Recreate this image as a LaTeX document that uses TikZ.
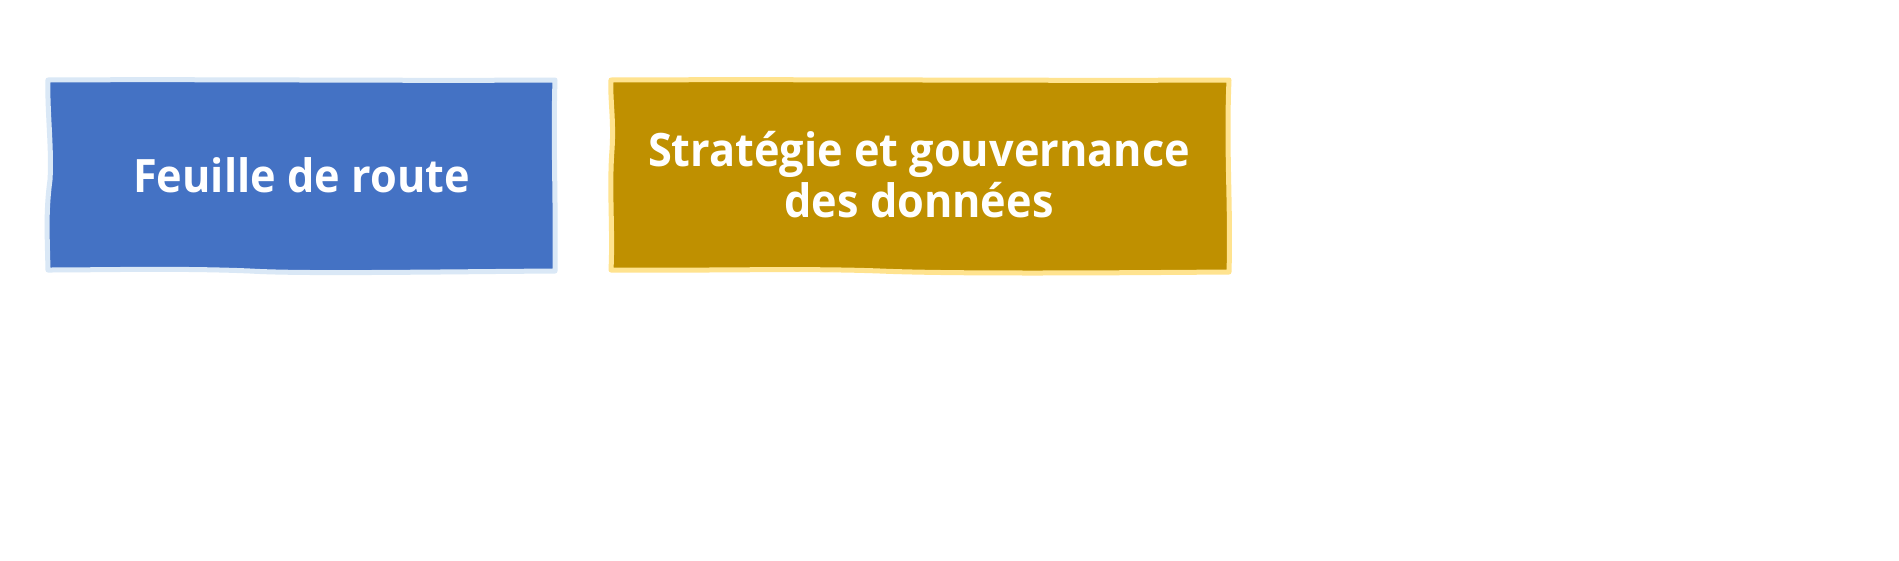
\documentclass[tikz,border=0pt]{standalone}
\usepackage{fontspec}
\usepackage{graphicx}
\newfontfamily\boxfont{Open Sans}
\definecolor{bluefill}{HTML}{4472C4}
\definecolor{blueedge}{HTML}{DAE8F6}
\definecolor{goldfill}{HTML}{BF9000}
\definecolor{goldedge}{HTML}{FFE38F}
\newcommand{\narrowline}[1]{\scalebox{0.94}[1]{#1}}
\tikzset{
  boxlabel/.style={text=white, font=\boxfont\bfseries\fontsize{46}{51}\selectfont, align=center, inner sep=0pt},
  boxshape/.style={line width=5pt, line join=round},
}
\begin{document}
\begin{tikzpicture}[x=1pt,y=-1pt]
\useasboundingbox (0,0) rectangle (1899,560);
\fill[white] (0,0) rectangle (1899,560);
% blue box
\path[boxshape, draw=blueedge, fill=bluefill]
  (48,80) .. controls (200,79) and (400,81) .. (555,80)
  .. controls (553,140) and (556,200) .. (555,271)
  .. controls (420,272) and (300,274) .. (250,271)
  .. controls (180,268) and (100,270) .. (48,270)
  .. controls (47,230) and (46,210) .. (50,180)
  .. controls (52,150) and (47,110) .. (48,80) -- cycle;
% gold box
\path[boxshape, draw=goldedge, fill=goldfill]
  (611,80) .. controls (800,79) and (1050,81) .. (1229,80)
  .. controls (1226,150) and (1231,210) .. (1229,272)
  .. controls (1100,273) and (950,274) .. (880,271)
  .. controls (800,268) and (700,271) .. (611,270)
  .. controls (613,230) and (609,190) .. (612,150)
  .. controls (614,120) and (610,100) .. (611,80) -- cycle;
\node[boxlabel] (roadmap) at (301.5,175.5) {\narrowline{Feuille de route}};
\node[boxlabel] (strategy) at (919,175) {\narrowline{Stratégie et gouvernance}\\\narrowline{des données}};
\end{tikzpicture}
\end{document}
